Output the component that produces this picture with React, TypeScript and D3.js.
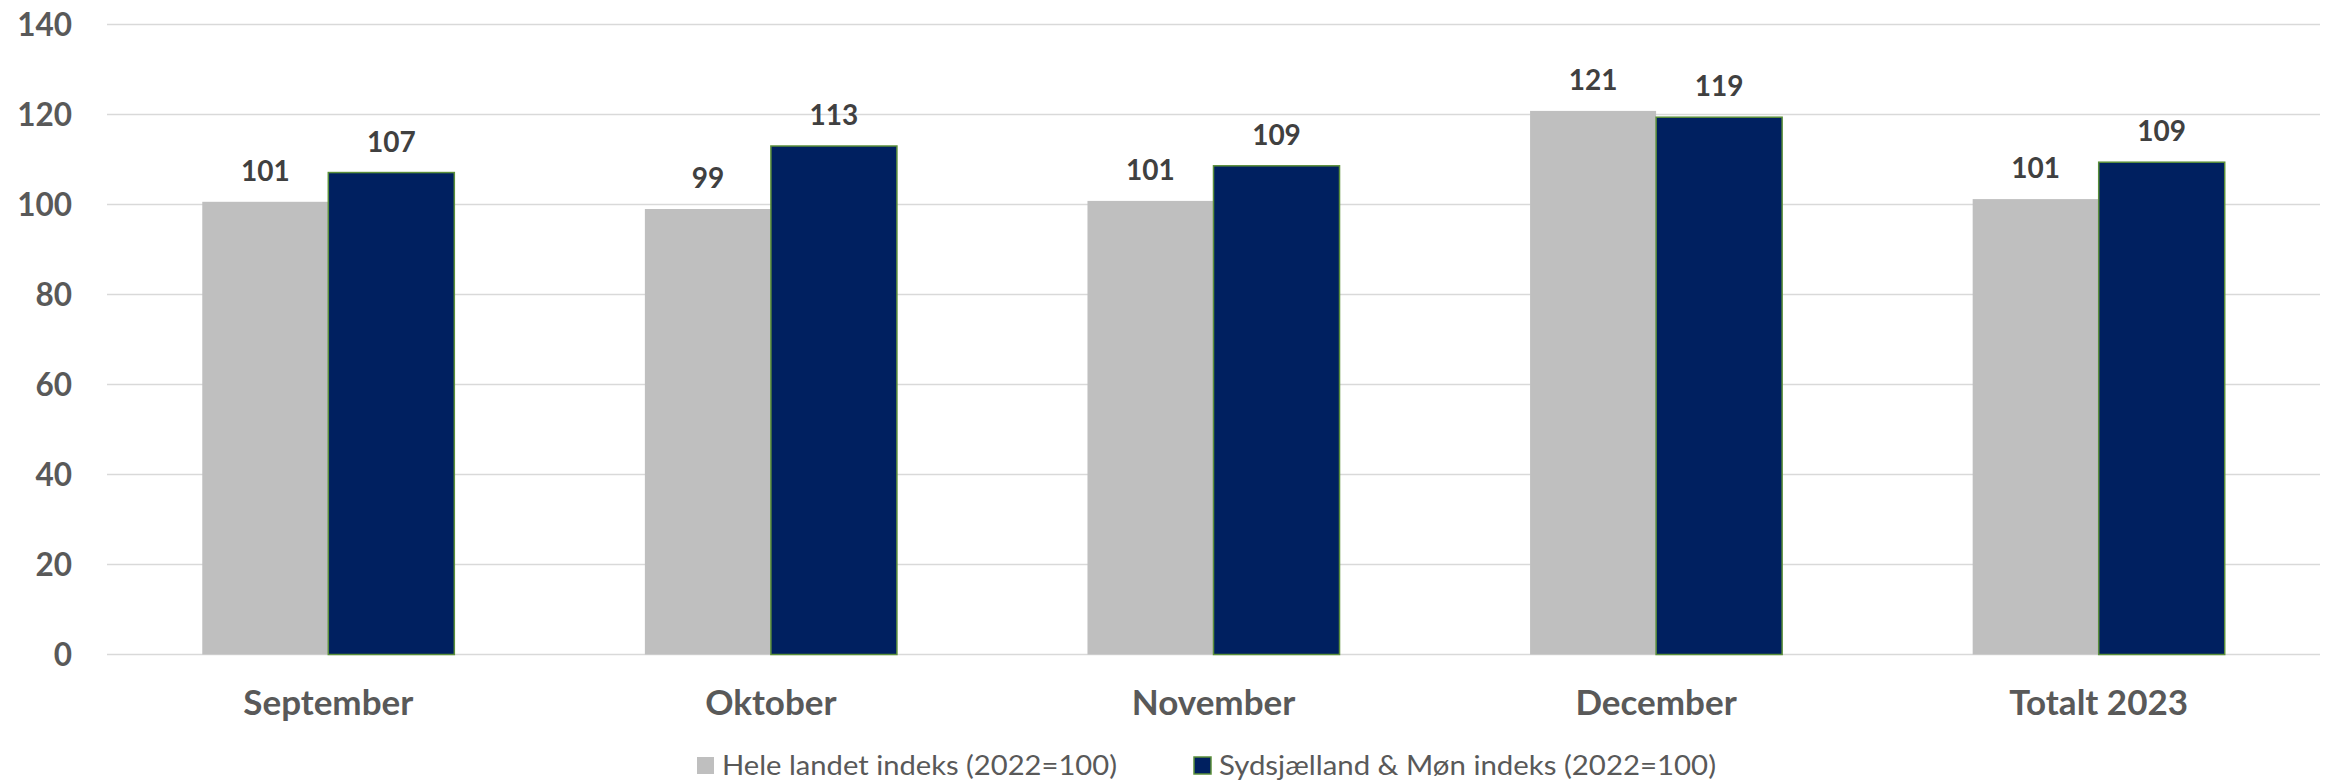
import React from 'react'
import * as d3 from 'd3'

const categories = ['September', 'Oktober', 'November', 'December', 'Totalt 2023']
const seriesNames = ['Hele landet indeks (2022=100)', 'Sydsjælland & Møn indeks (2022=100)']
const heleLandet = [100.6, 99.0, 100.8, 120.8, 101.2]
const sydsjaelland = [107.1, 113.0, 108.6, 119.4, 109.4]
const yTicks = [0, 20, 40, 60, 80, 100, 120, 140]

const W = 2326
const H = 780
const FONT = 'Lato, "Open Sans", sans-serif'
const colors = ['#BFBFBF', '#002060']

const App: React.FC = () => {
  const margin = { top: 24.5, left: 107, right: 6, bottom: 125.5 }
  const x = d3
    .scaleBand<string>()
    .domain(categories)
    .range([margin.left, W - margin.right])
  const xs = d3
    .scaleBand<number>()
    .domain([0, 1])
    .range([0, x.bandwidth()])
    .paddingInner(0)
    .paddingOuter(0.756)
  const y = d3
    .scaleLinear()
    .domain([0, 140])
    .range([H - margin.bottom, margin.top])

  const series = [heleLandet, sydsjaelland]

  return (
    <svg width={W} height={H} style={{ position: 'absolute', left: 0, top: 0, background: '#fff' }}>
      {/* gridlines + y labels */}
      {yTicks.map(t => (
        <g key={t}>
          <line x1={margin.left} x2={W - margin.right} y1={y(t)} y2={y(t)} stroke="#D9D9D9" strokeWidth={1.5} />
          <text x={72} y={y(t) + 11} textAnchor="end" fontFamily={FONT} fontWeight="bold" fontSize={31.5} fill="#595959">
            {t}
          </text>
        </g>
      ))}

      {/* bars */}
      {series.map((vals, si) =>
        vals.map((v, ci) => {
          const bx = (x(categories[ci]) as number) + (xs(si) as number)
          const bw = xs.bandwidth()
          return (
            <g key={`${si}-${ci}`}>
              <rect
                x={bx}
                y={y(v)}
                width={bw}
                height={y(0) - y(v)}
                fill={colors[si]}
                stroke={si === 1 ? '#5B8F3A' : 'none'}
                strokeWidth={si === 1 ? 1.5 : 0}
              />
              <text
                x={bx + bw / 2}
                y={y(v) - 21}
                textAnchor="middle"
                fontFamily={FONT}
                fontWeight="bold"
                fontSize={28}
                fill="#404040"
              >
                {Math.round(v)}
              </text>
            </g>
          )
        }),
      )}

      {/* x labels */}
      {categories.map(c => (
        <text
          key={c}
          x={(x(c) as number) + x.bandwidth() / 2}
          y={715}
          textAnchor="middle"
          fontFamily={FONT}
          fontWeight="bold"
          fontSize={35}
          fill="#595959"
        >
          {c}
        </text>
      ))}

      {/* legend */}
      {seriesNames.map((name, i) => {
        const lx = [697, 1194][i]
        const len = [395, 497][i]
        return (
          <g key={name}>
            <rect
              x={lx}
              y={757}
              width={17}
              height={17}
              fill={colors[i]}
              stroke={i === 1 ? '#5B8F3A' : 'none'}
              strokeWidth={i === 1 ? 1.5 : 0}
            />
            <text
              x={lx + 25}
              y={775}
              fontFamily={FONT}
              fontSize={27}
              fill="#595959"
              textLength={len}
              lengthAdjust="spacingAndGlyphs"
            >
              {name}
            </text>
          </g>
        )
      })}
    </svg>
  )
}

export default App
